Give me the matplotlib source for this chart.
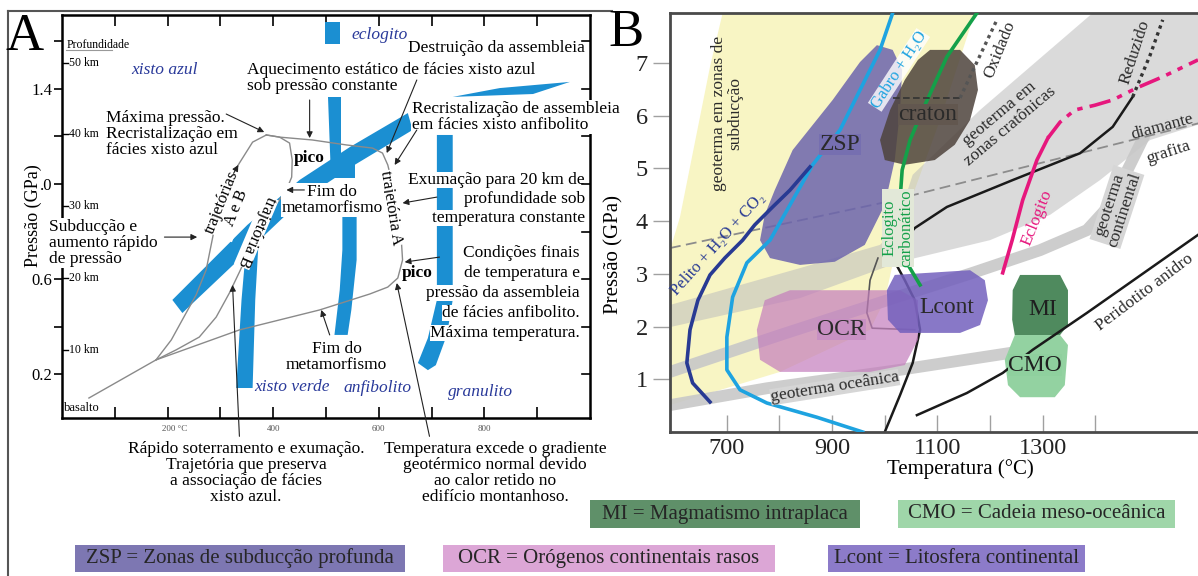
import matplotlib.pyplot as plt
from matplotlib.lines import Line2D
from matplotlib.patches import Polygon, Rectangle

plt.rcParams["font.family"] = ["Liberation Serif", "DejaVu Serif"]

W, H = 1198, 576
FS = 12.5
FACIES_BLUE = "#1b8fd2"
FACIES_TXT = "#2a3a9a"

# ---------------- panel A (temperature in degC, pressure in GPa) ----------------
A_T_TICKS = [100, 200, 300, 400, 500, 600, 700, 800, 900]
A_T_LABELS = {200: "200 °C", 400: "400", 600: "600", 800: "800"}
A_P_TICKS = [0.2, 0.4, 0.6, 0.8, 1.0, 1.2, 1.4, 1.6]
A_P_LABELS = ["0.2", "", "0.6", "", ".0", "", "1.4", ""]
DEPTH_KM = [10, 20, 30, 40, 50]
DEPTH_P = [0.302, 0.604, 0.906, 1.208, 1.51]

# blue facies boundaries
ecl_box = [(499, 1.59), (526, 1.59), (526, 1.68), (499, 1.68)]
upper_wedge = [(740, 1.366), (829, 1.403), (962, 1.429), (892, 1.378)]
diag_band = [(209, 0.513), (351, 0.828), (450, 1.017), (545, 1.155), (655, 1.298),
             (664, 1.227), (554, 1.080), (454, 0.933), (368, 0.752), (228, 0.458)]
mid_band_top = [(503, 1.366), (529, 1.366), (529, 1.088), (554, 1.088), (554, 1.025), (509, 1.025)]
mid_band_low = [(531, 0.996), (558, 0.996), (558, 0.681), (548, 0.471), (541, 0.366),
                (516, 0.366), (526, 0.555), (531, 0.723)]
left_band = [(349, 0.744), (372, 0.744), (366, 0.513), (361, 0.143), (330, 0.143), (340, 0.513)]
right_band = [(710, 1.206), (740, 1.206), (740, 0.513), (729, 0.366), (708, 0.239),
              (693, 0.218), (674, 0.248), (693, 0.353), (710, 0.513)]

# P-T paths
path_A_T = [51, 178, 336, 488, 583, 617, 636, 645, 643, 634, 624, 617, 607, 588, 539, 474, 412, 387]
path_A_P = [0.101, 0.261, 0.387, 0.471, 0.538, 0.567, 0.605, 0.681, 0.752, 0.891, 1.017,
            1.080, 1.130, 1.151, 1.164, 1.185, 1.197, 1.206]
path_up_T = [178, 207, 233, 254, 273, 292, 317, 336, 361, 387]
path_up_P = [0.261, 0.345, 0.450, 0.534, 0.639, 0.849, 1.017, 1.088, 1.176, 1.206]
path_B_T = [387, 412, 431, 436, 435, 425, 398, 364, 336, 317, 292, 260, 216, 178]
path_B_P = [1.206, 1.197, 1.172, 1.101, 1.029, 0.975, 0.891, 0.765, 0.630, 0.542, 0.441,
            0.357, 0.303, 0.261]

# annotation arrows: (start, end)
A_ARROWS = [
    ((311, 1.294), (383, 1.218)),
    ((469, 1.353), (469, 1.193)),
    ((672, 1.437), (615, 1.130)),
    ((672, 1.227), (630, 1.080)),
    ((459, 0.975), (425, 0.975)),
    ((194, 0.777), (256, 0.777)),
    ((336, -0.06), (323, 0.576)),
    ((696, -0.06), (634, 0.584)),
    ((507, 0.366), (491, 0.471)),
    ((715, 0.693), (649, 0.672)),
    ((710, 0.945), (645, 0.920)),
    ((325, 1.045), (334, 1.080)),
]

EXUM_LINES = ["Exumação para 20 km de", "profundidade sob", "temperatura constante"]
COND_LINES = ["Condições finais", "de temperatura e", "pressão da assembleia",
              "de fácies anfibolito.", "Máxima temperatura."]

# ---------------- panel B ----------------
B_T_TICKS = [700, 800, 900, 1000, 1100, 1200, 1300, 1400]
B_T_LABELS = ["700", "", "900", "", "1100", "", "1300", ""]
B_P_TICKS = [1, 2, 3, 4, 5, 6, 7]

yellow_T = [692, 1171, 1105, 1029, 1000, 972, 801, 592, 592, 611, 630, 649, 668]
yellow_P = [7.95, 7.95, 5.92, 3.83, 2.50, 1.94, 1.14, 0.51, 3.45, 4.08, 5.03, 5.98, 6.93]
craton_wedge_T = [592, 839, 991, 1019, 1053, 1181, 1395, 1595, 1595, 1504, 1409, 1314, 1200, 1029, 839, 592]
craton_wedge_P = [2.41, 3.11, 3.55, 3.83, 4.88, 6.11, 7.95, 7.95, 5.83, 5.54, 4.78, 4.12, 3.64, 3.23, 2.54, 1.99]
cont_geo_T = [592, 801, 1048, 1167, 1295, 1384, 1428, 1466, 1494]
cont_geo_P = [1.14, 1.84, 2.64, 3.02, 3.45, 3.83, 4.31, 5.07, 5.64]
ocean_geo_T = [592, 776, 1029, 1238, 1290]
ocean_geo_P = [0.51, 0.83, 1.18, 1.50, 1.62]
diamond_T = [592, 996, 1597]
diamond_P = [3.49, 4.35, 5.86]

zsp_T = [985, 1015, 1033, 1029, 1019, 1000, 962, 905, 839, 782, 763, 772, 791, 825, 901, 953]
zsp_P = [7.34, 7.25, 6.87, 6.11, 5.16, 4.31, 3.55, 3.23, 3.17, 3.30, 3.64, 4.12, 4.59, 5.35, 6.30, 7.02]
craton_T = [1086, 1143, 1171, 1177, 1162, 1133, 1095, 1038, 1000, 991, 1010, 1038, 1063]
craton_P = [7.25, 7.25, 6.96, 6.49, 5.92, 5.45, 5.16, 5.07, 5.16, 5.54, 6.11, 6.68, 7.06]
ocr_T = [772, 820, 1029, 1063, 1063, 1038, 972, 801, 763, 757]
ocr_P = [2.50, 2.69, 2.69, 2.50, 1.75, 1.27, 1.14, 1.14, 1.37, 1.94]
lcont_T = [1019, 1162, 1190, 1196, 1181, 1143, 1029, 1006, 1004]
lcont_P = [2.98, 3.07, 2.88, 2.50, 2.03, 1.88, 1.88, 2.13, 2.69]
mi_T = [1257, 1333, 1348, 1348, 1333, 1247, 1242, 1243]
mi_P = [2.98, 2.98, 2.69, 2.03, 1.84, 1.84, 2.13, 2.69]
cmo_T = [1247, 1333, 1348, 1342, 1323, 1257, 1234, 1228]
cmo_P = [1.84, 1.84, 1.65, 0.89, 0.66, 0.66, 0.89, 1.37]

gabbro_T = [1015, 991, 953, 915, 863, 820, 782, 738, 711, 700, 700, 725, 776, 871, 958]
gabbro_P = [7.95, 7.25, 6.49, 5.73, 5.07, 4.31, 3.64, 3.21, 2.56, 1.80, 1.18, 0.80, 0.55, 0.28, 0.0]
pelite_T = [858, 820, 787, 753, 730, 696, 668, 645, 630, 624, 635, 668]
pelite_P = [5.03, 4.59, 4.27, 3.93, 3.64, 3.30, 2.98, 2.50, 1.94, 1.31, 0.93, 0.57]
carb_T = [1175, 1118, 1072, 1048, 1033, 1029, 1025, 1033, 1052, 1067]
carb_P = [7.95, 7.12, 6.11, 5.54, 4.97, 4.40, 3.83, 3.36, 3.04, 2.79]
cratgeo_T = [1000, 1029, 1053, 1067, 1057, 1038, 1019, 1029, 1057, 1118, 1243, 1371, 1433, 1471]
cratgeo_P = [0.0, 0.70, 1.31, 1.94, 2.50, 2.88, 3.23, 3.55, 3.87, 4.27, 4.78, 5.29, 5.79, 6.36]
reduced_T = [1471, 1504, 1528]
reduced_P = [6.36, 7.15, 7.82]
oxid_T = [1015, 1143, 1175, 1213]
oxid_P = [6.34, 6.34, 7.02, 7.82]
link_T = [987, 972, 966, 976, 1057]
link_P = [3.30, 2.88, 2.26, 1.97, 1.94]
perid_T = [1061, 1156, 1224, 1281, 1384, 1595]
perid_P = [0.32, 0.74, 1.12, 1.56, 2.26, 3.74]
eclog_T = [1224, 1242, 1262, 1289, 1310]
eclog_P = [3.02, 3.64, 4.40, 5.16, 5.58]
eclog_dd_T = [1310, 1333, 1361, 1399, 1433, 1479, 1528, 1595]
eclog_dd_P = [5.58, 5.88, 6.11, 6.20, 6.30, 6.53, 6.74, 7.06]

LEGEND_LABELS = ["MI = Magmatismo intraplaca", "CMO = Cadeia meso-oceânica",
                 "ZSP = Zonas de subducção profunda", "OCR = Orógenos continentais rasos",
                 "Lcont = Litosfera continental"]
LEGEND_COLORS = ["#5f9069", "#9fd6a9", "#7d77b2", "#dca6d6", "#8c7bc9"]
LEGEND_BOXES = [(590, 500, 860, 528), (898, 500, 1175, 528),
                (75, 545, 405, 572), (443, 545, 775, 572), (828, 545, 1085, 572)]


def fx(x):
    return x / W


def fy(y):
    return 1 - y / H


def blob(ax, pts, color, alpha=1.0, z=2):
    ax.add_patch(Polygon(pts, closed=True, fc=color, ec="none", alpha=alpha, zorder=z))


fig = plt.figure(figsize=(W / 100, H / 100), dpi=100)
fig.patch.set_facecolor("white")

# outer frame of panel A
fig.add_artist(Line2D([fx(8), fx(8)], [fy(11), fy(576)], color="#555555", lw=1.5))
fig.add_artist(Line2D([fx(8), fx(612)], [fy(11), fy(11)], color="#555555", lw=1.5))

# ======================= PANEL A =======================
ax_a = fig.add_axes([fx(62), fy(418), (590 - 62) / W, (418 - 15) / H])
ax_a.set_xlim(0, 1000)
ax_a.set_ylim(0.017, 1.71)
for s in ax_a.spines.values():
    s.set_linewidth(1.8)
ax_a.set_xticks(A_T_TICKS)
ax_a.set_xticklabels([])
ax_a.tick_params(axis="x", direction="in", top=True, bottom=True, length=8, width=1.2)
ax_a.set_yticks(A_P_TICKS)
ax_a.set_yticklabels(A_P_LABELS)
ax_a.tick_params(axis="y", direction="out", length=6, width=1.2, labelsize=12, pad=1)
for p in A_P_TICKS:
    ax_a.plot([984, 1000], [p, p], color="k", lw=1.2, clip_on=False, zorder=6)

for km, p in zip(DEPTH_KM, DEPTH_P):
    ax_a.plot([0, 12], [p, p], color="k", lw=1.0, zorder=6)
    ax_a.text(13, p, f"{km} km", fontsize=8.5, va="center", ha="left", zorder=6)
ax_a.text(8, 1.585, "Profundidade", fontsize=8.5, va="center", ha="left")
ax_a.plot([8, 95], [1.562, 1.562], color="#999999", lw=0.8)
ax_a.text(4, 0.06, "basalto", fontsize=9, va="center", ha="left")

for t, lab in A_T_LABELS.items():
    ax_a.text(t + (14 if "C" in lab else 0), -0.012, lab, fontsize=6.5, color="#555555",
              ha="center", va="top", clip_on=False)

for band in [ecl_box, upper_wedge, diag_band, mid_band_top, mid_band_low, left_band, right_band]:
    blob(ax_a, band, FACIES_BLUE, z=2)

for tt, pp in [(path_A_T, path_A_P), (path_up_T, path_up_P), (path_B_T, path_B_P)]:
    ax_a.plot(tt, pp, color="#8a8a8a", lw=1.0, zorder=3)

for start, end in A_ARROWS:
    ax_a.annotate("", xy=end, xytext=start, annotation_clip=False, zorder=7,
                  arrowprops=dict(arrowstyle="-|>", color="#222222", lw=0.8,
                                  mutation_scale=9, shrinkA=0, shrinkB=0))

facies = [("xisto azul", 194, 1.479), ("eclogito", 602, 1.626), ("xisto verde", 436, 0.147),
          ("anfibolito", 598, 0.143), ("granulito", 793, 0.126)]
for name, t, p in facies:
    ax_a.text(t, p, name, color=FACIES_TXT, style="italic", fontsize=FS, ha="center", va="center", zorder=5)

white = dict(fc="white", ec="none", pad=0.6)
tight = dict(fc="white", ec="none", pad=0.15)
ax_a.text(990, 1.571, "Destruição da assembleia", fontsize=FS, ha="right", va="center", zorder=5)
ax_a.text(351, 1.445, "Aquecimento estático de fácies xisto azul\nsob pressão constante",
          fontsize=FS, ha="left", va="center", linespacing=1.0, zorder=5)
ax_a.text(662, 1.282, "Recristalização de assembleia\nem fácies xisto anfibolito",
          fontsize=FS, ha="left", va="center", linespacing=1.0, zorder=5, bbox=white)
ax_a.text(83, 1.21, "Máxima pressão.\nRecristalização em\nfácies xisto azul",
          fontsize=FS, ha="left", va="center", linespacing=1.0, zorder=5)
ax_a.text(469, 1.109, "pico", fontsize=FS, weight="bold", ha="center", va="center", zorder=8)
ax_a.text(672, 0.626, "pico", fontsize=FS, weight="bold", ha="center", va="center", zorder=8)
ax_a.text(317, 0.912, "trajetórias\nA e B", fontsize=12, rotation=68, ha="center", va="center",
          rotation_mode="anchor", linespacing=1.0, zorder=5, bbox=dict(fc="white", ec="none", pad=0.2))
ax_a.text(368, 0.798, "trajetória B", fontsize=12, rotation=-113, ha="center", va="center",
          rotation_mode="anchor", zorder=5, bbox=dict(fc="white", ec="none", pad=0.2))
ax_a.text(622, 0.899, "trajetória A", fontsize=12, rotation=-81, ha="center", va="center",
          rotation_mode="anchor", zorder=5, bbox=dict(fc="white", ec="none", pad=0.2))
ax_a.text(512, 0.933, "Fim do\nmetamorfismo", fontsize=FS, ha="center", va="center",
          linespacing=1.0, zorder=5, bbox=white)
ax_a.text(520, 0.273, "Fim do\nmetamorfismo", fontsize=FS, ha="center", va="center",
          linespacing=1.0, zorder=5)
for i, line in enumerate(EXUM_LINES):
    ax_a.text(990, 1.017 - i * 0.08, line, fontsize=FS, ha="right", va="center", zorder=5, bbox=tight)
for i, line in enumerate(COND_LINES):
    ax_a.text(981, 0.710 - i * 0.084, line, fontsize=FS, ha="right", va="center", zorder=5, bbox=tight)
ax_a.text(-25, 0.752, "Subducção e\naumento rápido\nde pressão", fontsize=FS, ha="left",
          va="center", linespacing=1.0, zorder=8, clip_on=False, bbox=white)

fig.text(fx(246), fy(473), "Rápido soterramento e exumação.\nTrajetória que preserva\n"
         "a associação de fácies\nxisto azul.", fontsize=FS, ha="center", va="center", linespacing=1.0)
fig.text(fx(495), fy(473), "Temperatura excede o gradiente\ngeotérmico normal devido\n"
         "ao calor retido no\nedifício montanhoso.", fontsize=FS, ha="center", va="center",
         linespacing=1.0)
fig.text(fx(33), fy(216), "Pressão (GPa)", rotation=90, fontsize=13, ha="center", va="center")
fig.text(fx(25), fy(37), "A", fontsize=38, ha="center", va="center")

# ======================= PANEL B =======================
ax_b = fig.add_axes([fx(670), fy(432), (1198 - 670) / W, (432 - 13) / H])
ax_b.set_xlim(592, 1595)
ax_b.set_ylim(0, 7.95)
ax_b.spines["right"].set_visible(False)
for k in ["left", "top", "bottom"]:
    ax_b.spines[k].set_color("#4a4a4a")
    ax_b.spines[k].set_linewidth(2)
ax_b.set_xticks(B_T_TICKS)
ax_b.set_xticklabels(B_T_LABELS)
ax_b.tick_params(axis="x", direction="in", length=12, width=1, color="#a0a0a0",
                 labelsize=17.5, labelcolor="#222222", pad=4)
ax_b.set_yticks(B_P_TICKS)
ax_b.tick_params(axis="y", direction="out", length=12, width=1, color="#a0a0a0",
                 labelsize=17.5, labelcolor="#222222", pad=4)

blob(ax_b, list(zip(yellow_T, yellow_P)), "#f8f5c4", z=1)
blob(ax_b, list(zip(craton_wedge_T, craton_wedge_P)), "#bdbdbd", alpha=0.55, z=1.5)
ax_b.plot(cont_geo_T, cont_geo_P, color="#c8c8c8", lw=8.5, alpha=0.9, zorder=1.8, solid_capstyle="butt")
ax_b.plot(ocean_geo_T, ocean_geo_P, color="#c8c8c8", lw=8.5, alpha=0.9, zorder=1.8, solid_capstyle="butt")
ax_b.plot(diamond_T, diamond_P, color="#8c8c8c", lw=1.3, ls=(0, (6, 3)), zorder=2)

ax_b.plot(cratgeo_T, cratgeo_P, color="#1a1a1a", lw=1.8, zorder=2.5)
ax_b.plot(link_T, link_P, color="#555555", lw=1.2, zorder=2.5)
blob(ax_b, list(zip(zsp_T, zsp_P)), "#6c64ad", alpha=0.85, z=3)
blob(ax_b, list(zip(craton_T, craton_P)), "#4e433c", alpha=0.85, z=3)
blob(ax_b, list(zip(ocr_T, ocr_P)), "#c47dbd", alpha=0.7, z=3)
blob(ax_b, list(zip(lcont_T, lcont_P)), "#7360bd", alpha=0.85, z=3.1)
blob(ax_b, list(zip(mi_T, mi_P)), "#4f8a5e", z=3)
blob(ax_b, list(zip(cmo_T, cmo_P)), "#93d2a1", z=3)

ax_b.plot(gabbro_T, gabbro_P, color="#1ea3e0", lw=2.6, zorder=4)
ax_b.plot(pelite_T, pelite_P, color="#283a93", lw=2.6, zorder=4)
ax_b.plot(carb_T, carb_P, color="#14a049", lw=2.6, zorder=4)
ax_b.plot(reduced_T, reduced_P, color="#333333", lw=2.4, ls=(0, (1, 1.2)), zorder=4)
ax_b.plot(oxid_T[:2], oxid_P[:2], color="#333333", lw=1.2, ls=(0, (4, 2)), zorder=4)
ax_b.plot(oxid_T[1:], oxid_P[1:], color="#555555", lw=2.4, ls=(0, (1, 1.2)), zorder=4)
ax_b.plot(perid_T, perid_P, color="#1a1a1a", lw=1.8, zorder=4)
ax_b.plot(eclog_T, eclog_P, color="#e6177d", lw=2.6, zorder=4)
ax_b.plot(eclog_dd_T, eclog_dd_P, color="#e6177d", lw=2.6, ls=(0, (6, 2, 1.5, 2, 1.5, 2)), zorder=4)

big = 17
ax_b.text(915, 5.45, "ZSP", fontsize=big, color="#2a2a2a", ha="center", va="center", zorder=6,
          bbox=dict(fc="#766fb0", ec="none", pad=0.1))
ax_b.text(1082, 6.02, "craton", fontsize=big, color="#2a2a2a", ha="center", va="center", zorder=6,
          bbox=dict(fc="#62574f", ec="none", pad=0.1))
ax_b.text(918, 1.94, "OCR", fontsize=big, color="#2a2a2a", ha="center", va="center", zorder=6,
          bbox=dict(fc="#c890c3", ec="none", pad=0.1))
ax_b.text(1118, 2.37, "Lcont", fontsize=big, color="#2a2a2a", ha="center", va="center", zorder=6)
ax_b.text(1300, 2.33, "MI", fontsize=big, color="#1f1f1f", ha="center", va="center", zorder=6)
ax_b.text(1285, 1.27, "CMO", fontsize=big, color="#1f1f1f", ha="center", va="center", zorder=6,
          bbox=dict(fc="#8fd09e", ec="none", pad=0.1))

lab = dict(ha="center", va="center", rotation_mode="anchor", zorder=6, linespacing=1.0)
ax_b.text(700, 6.05, "geoterma em zonas de\nsubducção", fontsize=12.5, rotation=90, color="#2a2a2a", **lab)
ax_b.text(1027, 6.87, "Gabro + H₂O", fontsize=12, rotation=57, color="#1ea3e0",
          bbox=dict(fc="white", ec="none", pad=0.1, alpha=0.8), **lab)
ax_b.text(683, 3.57, "Pelito + H₂O + CO₂", fontsize=12, rotation=48, color="#283a93", **lab)
ax_b.text(1025, 3.87, "Eclogito\ncarbonático", fontsize=12, rotation=90, color="#14a049",
          bbox=dict(fc="#e2e8d8", ec="none", pad=0.1), **lab)
ax_b.text(1219, 7.25, "Oxidado", fontsize=12.5, rotation=68, color="#2a2a2a", **lab)
ax_b.text(1475, 7.21, "Reduzido", fontsize=12.5, rotation=72, color="#2a2a2a", **lab)
ax_b.text(1228, 5.92, "geoterma em\nzonas cratônicas", fontsize=12.5, rotation=40, color="#2a2a2a", **lab)
ax_b.text(1527, 5.79, "diamante", fontsize=12.5, rotation=15, color="#2a2a2a", **lab)
ax_b.text(1538, 5.31, "grafita", fontsize=12.5, rotation=18, color="#2a2a2a", **lab)
ax_b.text(1441, 4.27, "geoterma\ncontinental", fontsize=12.5, rotation=72, color="#2a2a2a",
          bbox=dict(fc="#d6d6d6", ec="none", pad=0.1), **lab)
ax_b.text(1289, 4.06, "Eclogito", fontsize=12.5, rotation=68, color="#e6177d", **lab)
ax_b.text(905, 0.85, "geoterma oceânica", fontsize=12.5, rotation=9, color="#2a2a2a",
          bbox=dict(fc="#d6d6d6", ec="none", pad=0.1), **lab)
ax_b.text(1494, 2.64, "Peridotito anidro", fontsize=12.5, rotation=37, color="#2a2a2a", **lab)

fig.text(fx(614), fy(255), "Pressão (GPa)", rotation=90, fontsize=15, ha="center", va="center")
fig.text(fx(960), fy(469), "Temperatura (°C)", fontsize=15, ha="center", va="center")
fig.text(fx(626), fy(33), "B", fontsize=38, ha="center", va="center")

# legend boxes
for (x0, y0, x1, y1), text, color in zip(LEGEND_BOXES, LEGEND_LABELS, LEGEND_COLORS):
    fig.add_artist(Rectangle((fx(x0), fy(y1)), (x1 - x0) / W, (y1 - y0) / H,
                             transform=fig.transFigure, fc=color, ec="none"))
    fig.text(fx((x0 + x1) / 2), fy((y0 + y1) / 2), text, fontsize=15, color="#262626",
             ha="center", va="center")

fig.savefig("out.png", dpi=100)
